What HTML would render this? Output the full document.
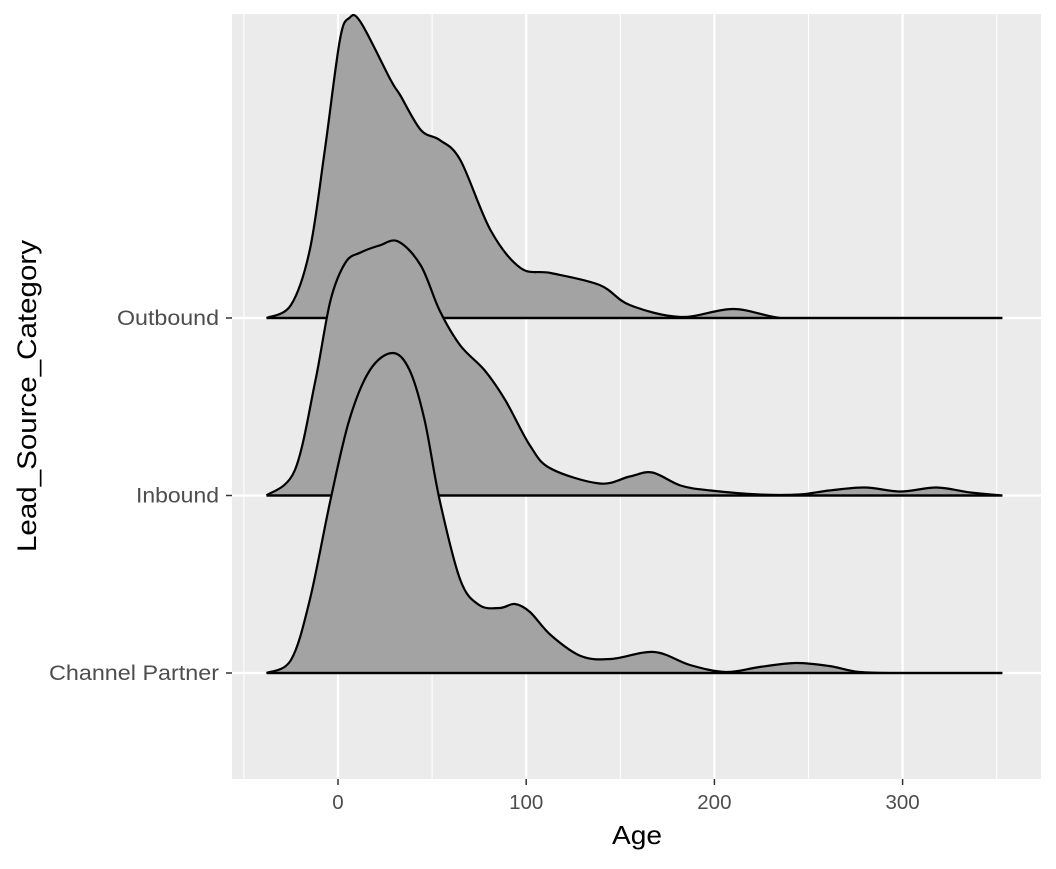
<!DOCTYPE html>
<html><head><meta charset="utf-8"><style>
body{margin:0;background:#fff;font-family:"Liberation Sans",sans-serif}
</style></head><body>
<svg id="c" width="1056" height="864" xmlns="http://www.w3.org/2000/svg">
<rect x="232" y="14" width="809" height="765" fill="#EBEBEB"/>
<g id="grid"></g><g id="ridges"></g><g id="axes"></g>
<text x="637" y="844" font-size="26" text-anchor="middle" textLength="50" lengthAdjust="spacingAndGlyphs" fill="#000">Age</text>
<text transform="translate(36,396) rotate(-90)" font-size="27" text-anchor="middle" textLength="312" lengthAdjust="spacingAndGlyphs" fill="#000">Lead_Source_Category</text>
</svg>
<script>
const categories=["Channel Partner","Inbound","Outbound"];
const labelWidths=[170,83,102];
const xTicks=[0,100,200,300];
const xMinor=[-50,50,150,250,350];
const cpX=[-38,-25,-15,-4,6,17,29,38,46,54,65,75,86,94,102,113,129,145,168,187,206,224,243,261,277,300,353];
const cpH=[0,13,73,173,253,303,320,303,253,173,93,68,65,69,61,38,17,14,21,8,1,6,10,7,1,0,0];
const inX=[-38,-23,-12,-4,4,12,22,32,44,54,65,78,89,102,113,139,155,167,182,198,224,245,261,280,299,318,336,353];
const inH=[0,25,115,195,233,243,250,254,230,185,150,125,95,50,27,12,19,23,10,5,1,1,5,8,4,8,3,0];
const obX=[-38,-25,-15,-7,1,6,12,28,33,44,54,65,81,97,113,139,155,182,210,235,260,353];
const obH=[0,13,68,168,278,300,296,238,223,188,178,158,88,50,45,33,13,1,9,0,0,0];
const series=[[cpX,cpH],[inX,inH],[obX,obH]];
const NS="http://www.w3.org/2000/svg";
const sx=v=>338+v*1.882;
const base=i=>673-i*177.5;
const sy=(i,h)=>base(i)-h;
function mk(tag,attrs,parent){const e=document.createElementNS(NS,tag);for(const k in attrs)e.setAttribute(k,attrs[k]);parent.appendChild(e);return e;}
const grid=document.getElementById('grid'),ridges=document.getElementById('ridges'),axes=document.getElementById('axes');
xMinor.forEach(v=>{const l=mk('line',{x1:sx(v),x2:sx(v),y1:14,y2:779,stroke:'#fff','stroke-width':1},grid);

});
xTicks.forEach(v=>{const l=mk('line',{x1:sx(v),x2:sx(v),y1:14,y2:779,stroke:'#fff','stroke-width':2.2},grid);


const t=mk('line',{x1:sx(v),x2:sx(v),y1:779,y2:785,stroke:'#333','stroke-width':1.5},axes);


const tx=mk('text',{x:sx(v),y:809,'font-size':20.5,'text-anchor':'middle',fill:'#4D4D4D'},axes);tx.textContent=v;

});
categories.forEach((c,i)=>{const l=mk('line',{x1:232,x2:1041,y1:base(i),y2:base(i),stroke:'#fff','stroke-width':2.2},grid);


const t=mk('line',{x1:226,x2:232,y1:base(i),y2:base(i),stroke:'#333','stroke-width':1.5},axes);


const tx=mk('text',{x:219,y:base(i)+7,'font-size':21,'text-anchor':'end',textLength:labelWidths[i],lengthAdjust:'spacingAndGlyphs',fill:'#4D4D4D'},axes);tx.textContent=c;

});
function smooth(pts,by){const cl=y=>Math.min(y,by);let d='M'+pts[0][0]+','+pts[0][1];
for(let k=0;k<pts.length-1;k++){const p0=pts[Math.max(k-1,0)],p1=pts[k],p2=pts[k+1],p3=pts[Math.min(k+2,pts.length-1)];
const c1=[p1[0]+(p2[0]-p0[0])/6,cl(p1[1]+(p2[1]-p0[1])/6)],c2=[p2[0]-(p3[0]-p1[0])/6,cl(p2[1]-(p3[1]-p1[1])/6)];
d+=' C'+c1[0]+','+c1[1]+' '+c2[0]+','+c2[1]+' '+p2[0]+','+p2[1];}return d;}
for(let i=series.length-1;i>=0;i--){const [xs,hs]=series[i];
const pts=xs.map((v,k)=>[sx(v),sy(i,hs[k])]);
const line=smooth(pts,base(i));
const area=line+' L'+sx(xs[xs.length-1])+','+base(i)+' L'+sx(xs[0])+','+base(i)+' Z';
const a=mk('path',{d:area,fill:'#A3A3A3',stroke:'none'},ridges);


const p=mk('path',{d:line+' L'+sx(xs[0])+','+base(i),fill:'none',stroke:'#000','stroke-width':2.2},ridges);


const b=mk('line',{x1:sx(xs[0]),x2:sx(xs[xs.length-1]),y1:base(i),y2:base(i),stroke:'#000','stroke-width':2.2},ridges);

}
</script>
</body></html>
